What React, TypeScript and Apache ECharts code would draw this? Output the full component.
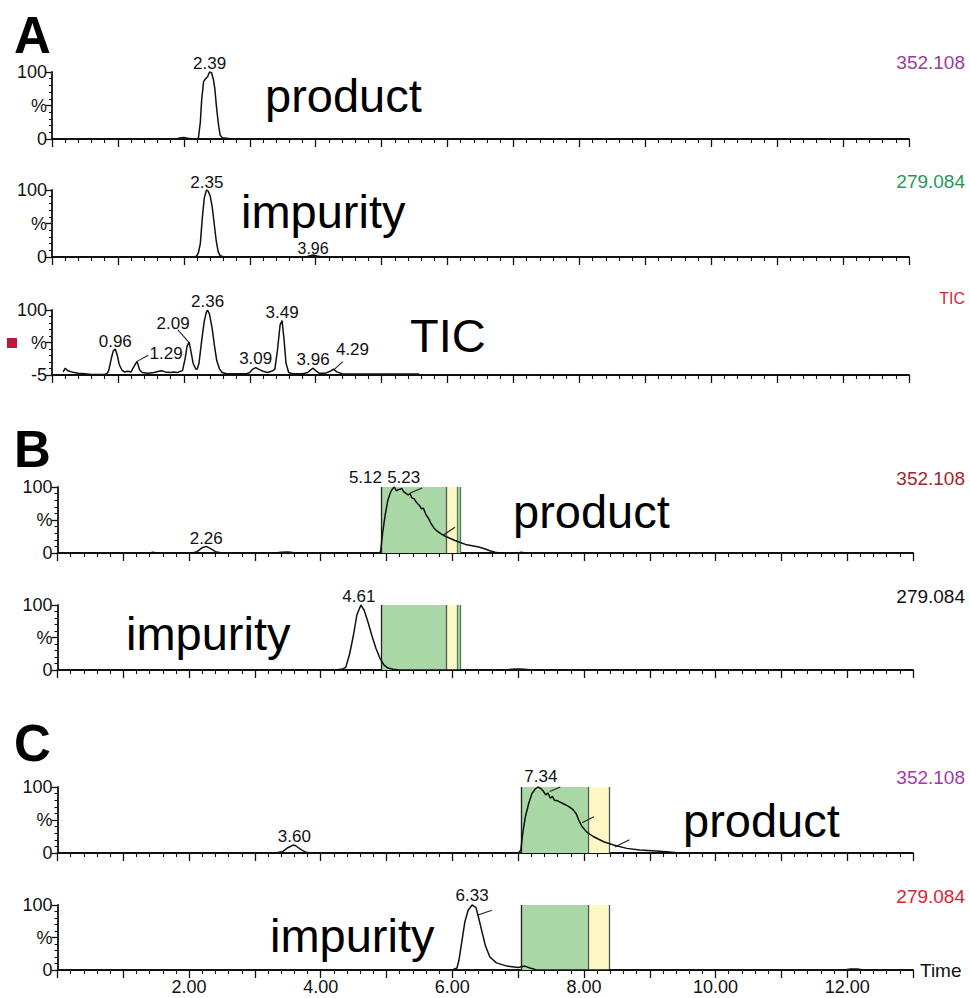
import React, { useEffect, useRef } from "react";
import * as echarts from "echarts";

// ---------- DATA ----------
// [time (min), intensity (%)]
const a1Product = [
  [0.03, 0], [1.88, 0], [1.94, 1.5], [2.0, 2.2], [2.06, 1.2], [2.12, 0.5], [2.2, 0.5],
  [2.22, 1], [2.25, 25], [2.27, 58], [2.3, 86], [2.33, 90], [2.36, 93], [2.39, 100],
  [2.42, 99], [2.45, 88], [2.47, 75], [2.5, 43], [2.53, 18], [2.55, 6], [2.58, 2],
  [2.65, 1], [2.72, 0], [5.5, 0],
];
const a2Impurity = [
  [0.1, 0], [2.15, 0], [2.19, 1], [2.22, 6], [2.25, 20], [2.28, 58], [2.31, 88], [2.34, 99],
  [2.35, 100], [2.37, 98], [2.4, 91], [2.43, 75], [2.46, 50], [2.49, 25], [2.52, 8],
  [2.55, 2], [2.6, 0.5], [2.7, 0], [3.85, 0], [3.9, 1.5], [3.96, 3], [4.02, 1.5], [4.1, 0], [5.5, 0],
];
const a3Tic = [
  [0.17, 0], [0.2, 6], [0.24, 2], [0.3, 0], [0.4, -2], [0.5, -3], [0.6, -4], [0.8, -4], [0.84, -2],
  [0.86, 2], [0.9, 22], [0.93, 34], [0.96, 37], [0.99, 27], [1.02, 12], [1.06, 3], [1.1, 0],
  [1.15, 1], [1.2, 0], [1.24, 8], [1.29, 17], [1.33, 3], [1.37, -1], [1.45, -2], [1.55, -1],
  [1.62, 1], [1.66, 2], [1.72, 0], [1.8, -1], [1.85, 0], [1.9, -1], [1.98, 2], [2.02, 22],
  [2.05, 42], [2.08, 48], [2.11, 32], [2.14, 14], [2.18, 5], [2.2, 4], [2.23, 14], [2.27, 50],
  [2.31, 82], [2.34, 96], [2.36, 100], [2.39, 93], [2.43, 70], [2.47, 38], [2.5, 18], [2.54, 5],
  [2.58, -1], [2.65, -3], [2.8, -3], [2.95, -3], [3.0, -1], [3.04, 4], [3.09, 7], [3.14, 4],
  [3.2, 1], [3.27, -1], [3.33, 1], [3.38, 4], [3.42, 35], [3.46, 76], [3.49, 83], [3.52, 52],
  [3.55, 14], [3.59, -1], [3.65, -3], [3.8, -3], [3.88, -1], [3.92, 3], [3.96, 6], [4.0, 2],
  [4.05, -2], [4.15, -2], [4.22, 1], [4.27, 4.5], [4.32, 0], [4.4, -3], [4.6, -3.5], [5.0, -3.5], [5.57, -3.5],
];
const b1Product = [
  [0.1, 0], [1.4, 0], [1.45, 1], [1.5, 0], [2.05, 0], [2.12, 2], [2.2, 8], [2.26, 10], [2.32, 7],
  [2.4, 2], [2.48, 0.5], [2.6, 0], [3.3, 0], [3.4, 1], [3.5, 1.5], [3.6, 0.5], [3.7, 0], [4.88, 0],
  [4.91, 2], [4.94, 30], [4.98, 58], [5.02, 80], [5.06, 92], [5.09, 97], [5.12, 100], [5.15, 94],
  [5.18, 96], [5.21, 97], [5.23, 98], [5.26, 93], [5.3, 90], [5.33, 88], [5.36, 90], [5.38, 84],
  [5.42, 82], [5.46, 76], [5.5, 72], [5.53, 67], [5.56, 68], [5.6, 58], [5.64, 52], [5.68, 44],
  [5.72, 38], [5.77, 33], [5.83, 29], [5.9, 25], [5.97, 22], [6.04, 19], [6.12, 16], [6.2, 13],
  [6.3, 11], [6.4, 9], [6.5, 6], [6.58, 3], [6.65, 1], [6.72, 0], [7.0, 0], [7.05, 1], [7.1, 0], [7.6, 0],
];
const b2Impurity = [
  [0.1, 0], [4.2, 0], [4.32, 1], [4.38, 4], [4.44, 25], [4.5, 55], [4.55, 85], [4.61, 100],
  [4.66, 92], [4.72, 73], [4.78, 52], [4.84, 33], [4.9, 18], [4.96, 8], [5.02, 3], [5.1, 1],
  [5.2, 0], [6.8, 0], [6.9, 1], [7.0, 1.5], [7.1, 1], [7.2, 0], [7.6, 0],
];
const c1Product = [
  [0.1, 0], [0.8, 0.5], [0.9, 0], [3.3, 0], [3.42, 2], [3.5, 8], [3.58, 12], [3.62, 11], [3.7, 5],
  [3.78, 1], [3.85, 0], [7.0, 0], [7.04, 4], [7.07, 30], [7.11, 55], [7.16, 75], [7.21, 90],
  [7.26, 97], [7.3, 100], [7.34, 98], [7.38, 94], [7.42, 88], [7.45, 91], [7.49, 83], [7.52, 86],
  [7.55, 80], [7.6, 79], [7.68, 75], [7.76, 71], [7.83, 66], [7.88, 60], [7.92, 50], [7.97, 40],
  [8.04, 32], [8.14, 25], [8.3, 17], [8.45, 12], [8.65, 7], [8.85, 4.5], [9.1, 3], [9.3, 1.5],
  [9.45, 0], [12.3, 0],
];
const c2Impurity = [
  [0.1, 0], [6.0, 0], [6.07, 3], [6.1, 15], [6.14, 41], [6.19, 74], [6.24, 92], [6.3, 100],
  [6.33, 98], [6.36, 96], [6.4, 80], [6.45, 59], [6.5, 38], [6.57, 20], [6.67, 11], [6.83, 6],
  [7.0, 4], [7.1, 6], [7.18, 3], [7.28, 0], [11.95, 0], [12.05, 1.5], [12.15, 1.5], [12.25, 0], [12.4, 0],
];

// Peak labels: [time, intensity, label]
const a1Peaks = [[2.39, 100, "2.39"]];
const a2Peaks = [[2.35, 100, "2.35"], [3.96, 3, "3.96"]];
const a3Peaks = [
  [0.96, 37, "0.96"], [1.29, 17, "1.29"], [2.08, 48, "2.09"], [2.36, 100, "2.36"],
  [3.49, 83, "3.49"], [3.09, 7, "3.09"], [3.96, 6, "3.96"], [4.27, 4.5, "4.29"],
];
const b1Peaks = [[2.26, 10, "2.26"], [5.12, 100, "5.12"], [5.23, 98, "5.23"]];
const b2Peaks = [[4.61, 100, "4.61"]];
const c1Peaks = [[3.6, 12, "3.60"], [7.3, 100, "7.34"]];
const c2Peaks = [[6.3, 100, "6.33"]];

// Leader segments: [t1, i1, t2, i2]
const a3Leaders = [[1.29, 17, 1.46, 27], [2.09, 46, 1.91, 68], [4.27, 3, 4.41, 16.5]];
const b1Leaders = [[5.12, 100, 5.02, 107], [5.36, 91, 5.54, 98.5], [5.86, 27, 6.04, 39]];
const c1Leaders = [[7.48, 93, 7.64, 100], [7.97, 46, 8.15, 55], [8.47, 9, 8.69, 20]];
const c2Leaders = [[6.39, 84.6, 6.6, 92]];

// Integration windows (min)
const bGreen = [[4.92, 5.91], [6.07, 6.12]];
const bYellow = [[5.91, 6.07]];
const bEdges = [4.92, 5.91, 6.07, 6.12];
const cGreen = [[7.04, 8.06]];
const cYellow = [[8.06, 8.39]];
const cEdges = [7.04, 8.06, 8.39];

const channelLabels = ["352.108", "279.084", "TIC", "352.108", "279.084", "352.108", "279.084"];
const channelColors = ["#9a3c9e", "#1f9a55", "#cc2a3a", "#a3262a", "#111111", "#a03ca8", "#d9242f"];
const compoundLabels = ["product", "impurity", "TIC", "product", "impurity", "product", "impurity"];
const xTickLabels = [2, 4, 6, 8, 10, 12];
const ticLabelValues = [-5, 47.5, 100];
const ticMinorValues = [5.5, 16, 26.5, 37, 58, 68.5, 79, 89.5];

// ---------- LAYOUT / STYLE ----------
const FONT = "'Liberation Sans', Arial, Helvetica, sans-serif";
const grids = [
  { left: 52, top: 72, width: 857, height: 67 },
  { left: 52, top: 190, width: 857, height: 67 },
  { left: 52, top: 310, width: 857, height: 65 },
  { left: 57.5, top: 487, width: 855.5, height: 66 },
  { left: 57.5, top: 605, width: 855.5, height: 65 },
  { left: 57.5, top: 787, width: 855.5, height: 66 },
  { left: 57.5, top: 905, width: 855.5, height: 65 },
];
const labelOffsets = [
  [[0, -9]],
  [[0, -8], [0, -6]],
  [[0, -8], [29, -8], [-16, -19], [0, -9], [0, -8], [0, -9], [0, -9], [19, -20]],
  [[0, -8], [-29, -10], [2, -11]],
  [[-2, -9]],
  [[0, -9], [3, -11]],
  [[0, -10]],
];
const wordPos = [
  [265, 95], [241, 211], [410, 335], [513, 511], [126, 633], [683, 820], [270, 935],
];
const channelY = [62, 181, 298, 478, 596, 777, 896];
const channelSizes = [19, 19, 16, 19, 19, 19, 19];
const letters = [["A", 35], ["B", 449], ["C", 743]];

const GREEN = "#a9d7a6";
const YELLOW = "#fdf8c6";
const INK = "#111111";

function App() {
  const ref = useRef<HTMLDivElement>(null);

  useEffect(() => {
    if (!ref.current) return;
    const chart = echarts.init(ref.current, null, { renderer: "svg" });

    const traces = [a1Product, a2Impurity, a3Tic, b1Product, b2Impurity, c1Product, c2Impurity];
    const peaks = [a1Peaks, a2Peaks, a3Peaks, b1Peaks, b2Peaks, c1Peaks, c2Peaks];
    const leaders = [[], [], a3Leaders, b1Leaders, [], c1Leaders, c2Leaders];

    const xAxes = grids.map((_, i) => {
      const last = i === grids.length - 1;
      return {
        type: "value",
        gridIndex: i,
        min: 0,
        max: 13,
        interval: 1,
        axisLine: { show: true, onZero: false, lineStyle: { color: INK, width: 1.8 } },
        axisTick: { show: true, length: 8, lineStyle: { color: INK, width: 1.3 } },
        minorTick: { show: true, splitNumber: 5, length: 4, lineStyle: { color: INK, width: 1.1 } },
        splitLine: { show: false },
        minorSplitLine: { show: false },
        axisLabel: {
          show: last,
          fontSize: 18,
          color: INK,
          margin: 8,
          fontFamily: FONT,
          formatter: (v: number) => (xTickLabels.indexOf(v) >= 0 ? v.toFixed(2) : ""),
        },
        name: last ? "Time" : "",
        nameLocation: "end",
        nameGap: 7,
        nameTextStyle: { fontSize: 19, color: INK, fontFamily: FONT, align: "left", verticalAlign: "middle" },
      };
    });

    const yAxes: any[] = grids.map((_, i) => {
      const isTic = i === 2;
      const base: any = {
        type: "value",
        gridIndex: i,
        position: "left",
        min: isTic ? -5 : 0,
        max: 100,
        axisLine: { show: true, lineStyle: { color: INK, width: 1.8 } },
        axisTick: { show: true, length: 6, lineStyle: { color: INK, width: 1.3 } },
        splitLine: { show: false },
        minorSplitLine: { show: false },
        axisLabel: {
          fontSize: 18,
          color: INK,
          margin: 5,
          fontFamily: FONT,
          formatter: (v: number) => (v === 50 || v === 47.5 ? "%" : String(v)),
        },
      };
      if (isTic) {
        base.axisTick.customValues = ticLabelValues;
        base.axisLabel.customValues = ticLabelValues;
      } else {
        base.interval = 50;
        base.minorTick = { show: true, splitNumber: 5, length: 3, lineStyle: { color: INK, width: 1.1 } };
      }
      return base;
    });
    // minor ticks for TIC panel
    yAxes.push({
      type: "value",
      gridIndex: 2,
      position: "left",
      min: -5,
      max: 100,
      axisLine: { show: false, onZero: false },
      axisTick: { show: true, length: 3, customValues: ticMinorValues, lineStyle: { color: INK, width: 1.1 } },
      axisLabel: { show: false },
      splitLine: { show: false },
    });

    const series = traces.map((data, i) => {
      const isB = i === 3 || i === 4;
      const isC = i === 5 || i === 6;
      const areas: any[] = [];
      const lines: any[] = [];
      if (isB || isC) {
        const g = isB ? bGreen : cGreen;
        const y = isB ? bYellow : cYellow;
        g.forEach(([a, b]) => areas.push([{ xAxis: a, itemStyle: { color: GREEN } }, { xAxis: b }]));
        y.forEach(([a, b]) => areas.push([{ xAxis: a, itemStyle: { color: YELLOW } }, { xAxis: b }]));
        const edges = isB ? bEdges : cEdges;
        edges.forEach((e, k) =>
          lines.push({
            xAxis: e,
            lineStyle: { color: k === 0 ? "#222" : isB && k >= 2 ? "#4f7f52" : "#555", width: 1.3, type: "solid" },
          })
        );
      }
      (leaders[i] as number[][]).forEach(([t1, v1, t2, v2]) =>
        lines.push([
          { coord: [t1, v1], lineStyle: { color: "#222", width: 1.1, type: "solid" } },
          { coord: [t2, v2] },
        ])
      );
      return {
        type: "line",
        xAxisIndex: i,
        yAxisIndex: i,
        data,
        showSymbol: false,
        symbol: "none",
        clip: false,
        lineStyle: { color: INK, width: 1.5 },
        silent: true,
        z: 3,
        markArea: areas.length ? { silent: true, data: areas, z: 1 } : undefined,
        markLine: lines.length
          ? { silent: true, symbol: ["none", "none"], label: { show: false }, data: lines, z: 2 }
          : undefined,
        markPoint: {
          silent: true,
          symbol: "circle",
          symbolSize: 1,
          itemStyle: { color: "rgba(0,0,0,0)" },
          label: { show: true, position: "inside", formatter: "{b}", fontSize: 17, color: INK, fontFamily: FONT },
          data: (peaks[i] as any[]).map((p, k) => ({
            coord: [p[0], p[1]],
            name: p[2],
            label: { offset: labelOffsets[i][k], fontSize: i === 1 && k === 1 ? 16 : 17 },
          })),
        },
      };
    });

    const graphics: any[] = [];
    letters.forEach(([ch, y]) =>
      graphics.push({
        type: "text",
        x: 14,
        y: y as number,
        style: { text: ch, fontSize: 51, fontWeight: "bold", fill: "#000", fontFamily: FONT, verticalAlign: "middle", align: "left" },
      })
    );
    compoundLabels.forEach((w, i) =>
      graphics.push({
        type: "text",
        x: wordPos[i][0],
        y: wordPos[i][1],
        style: { text: w, fontSize: 47, fill: "#000", fontFamily: FONT, verticalAlign: "middle", align: "left" },
      })
    );
    channelLabels.forEach((c, i) =>
      graphics.push({
        type: "text",
        x: 965,
        y: channelY[i],
        style: { text: c, fontSize: channelSizes[i], fill: channelColors[i], fontFamily: FONT, verticalAlign: "middle", align: "right" },
      })
    );
    graphics.push({ type: "rect", shape: { x: 7, y: 338, width: 10, height: 10 }, style: { fill: "#c2173c" } });

    chart.setOption({
      animation: false,
      backgroundColor: "#ffffff",
      textStyle: { fontFamily: FONT },
      grid: grids,
      xAxis: xAxes,
      yAxis: yAxes,
      series,
      graphic: graphics,
    });

    return () => chart.dispose();
  }, []);

  return (
    <div
      ref={ref}
      style={{ position: "fixed", left: 0, top: 0, width: 970, height: 998, background: "#fff" }}
    />
  );
}

export default App;
